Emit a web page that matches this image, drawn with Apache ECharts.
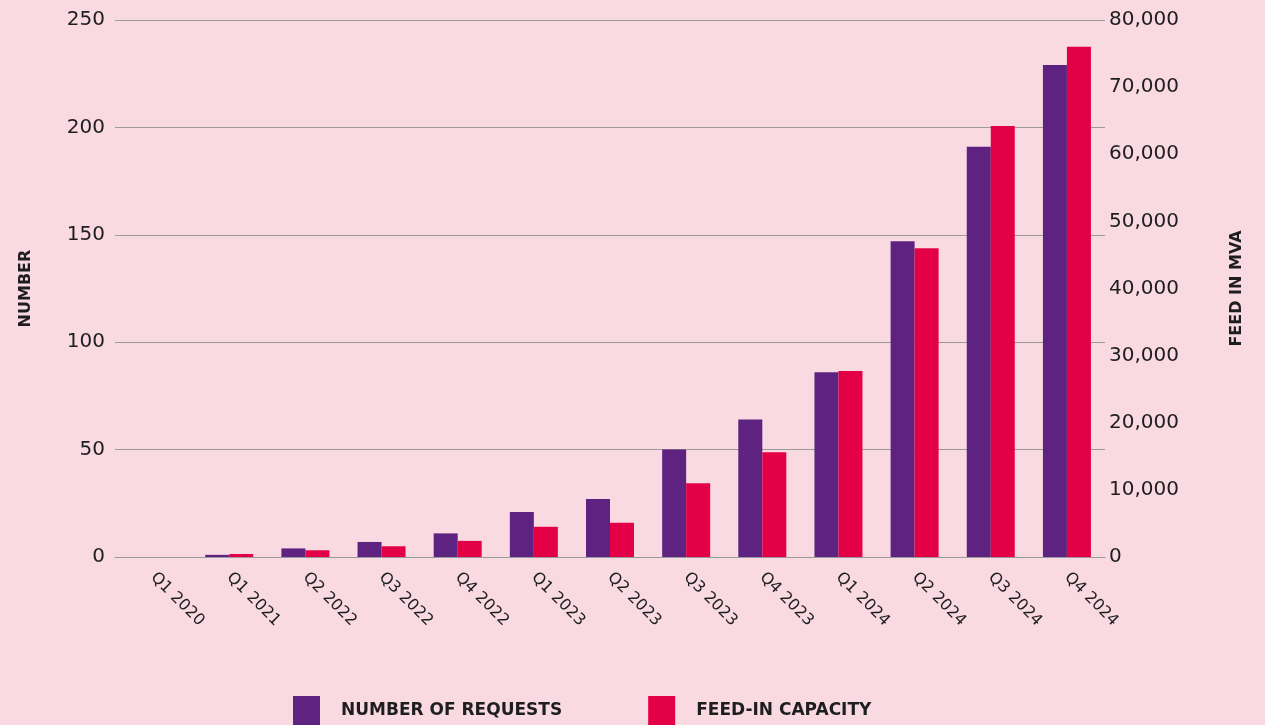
<!DOCTYPE html>
<html>
<head>
    <meta charset="utf-8" />
    <title>Requests and feed-in capacity</title>
    <script src="https://cdn.jsdelivr.net/npm/echarts@6/dist/echarts.min.js"></script>
    <style>
        html, body { margin: 0; padding: 0; background: #f9d9e2; }
    </style>
</head>
<body>
    <div id="main" style="width: 1265px; height: 725px;"></div>

    <script type="text/javascript">
        var quarters = ['Q1 2020', 'Q1 2021', 'Q2 2022', 'Q3 2022', 'Q4 2022', 'Q1 2023', 'Q2 2023',
            'Q3 2023', 'Q4 2023', 'Q1 2024', 'Q2 2024', 'Q3 2024', 'Q4 2024'];

        // number of requests (left axis)
        var requests = [0, 1, 4, 7, 11, 21, 27, 50, 64, 86, 147, 191, 229];

        // feed-in capacity in MVA (right axis)
        var capacity = [0, 450, 1000, 1600, 2400, 4500, 5100, 11000, 15600, 27700, 46000, 64200, 76000];

        var fontFamily = '"DejaVu Sans", sans-serif';
        var textColor = '#1e1e1e';

        var myChart = echarts.init(document.getElementById('main'));

        var option = {
            backgroundColor: '#f9d9e2',
            textStyle: { fontFamily: fontFamily },
            grid: {
                left: 115,
                right: 160,
                top: 20,
                bottom: 168
            },
            legend: {
                bottom: -6,
                left: 288,
                itemWidth: 27,
                itemHeight: 30,
                itemGap: 86,
                icon: 'rect',
                textStyle: {
                    fontFamily: fontFamily,
                    fontWeight: 'bold',
                    fontSize: 17,
                    color: textColor,
                    padding: [0, 0, 0, 16]
                },
                data: ['NUMBER OF REQUESTS', 'FEED-IN CAPACITY']
            },
            xAxis: {
                type: 'category',
                data: quarters,
                axisLine: { lineStyle: { color: '#9a9a9a', width: 1 } },
                axisTick: { show: false },
                axisLabel: {
                    rotate: -45,
                    margin: 18,
                    fontSize: 16,
                    color: textColor,
                    interval: 0
                }
            },
            yAxis: [
                {
                    type: 'value',
                    min: 0,
                    max: 250,
                    interval: 50,
                    name: 'NUMBER',
                    nameLocation: 'middle',
                    nameGap: 81,
                    nameTextStyle: {
                        fontWeight: 'bold',
                        fontSize: 16,
                        color: textColor
                    },
                    axisLine: { show: false },
                    axisTick: { show: false },
                    axisLabel: {
                        margin: 10,
                        fontSize: 20,
                        color: textColor
                    },
                    splitLine: { lineStyle: { color: '#9a9a9a', width: 1 } }
                },
                {
                    type: 'value',
                    min: 0,
                    max: 80000,
                    interval: 10000,
                    name: 'FEED IN MVA',
                    nameLocation: 'middle',
                    nameRotate: 90,
                    nameGap: 124,
                    nameTextStyle: {
                        fontWeight: 'bold',
                        fontSize: 16,
                        color: textColor
                    },
                    axisLine: { show: false },
                    axisTick: { show: false },
                    axisLabel: {
                        margin: 4,
                        fontSize: 20,
                        color: textColor,
                        formatter: function (v) {
                            return v.toLocaleString('en-US');
                        }
                    },
                    splitLine: { show: false }
                }
            ],
            series: [
                {
                    name: 'NUMBER OF REQUESTS',
                    type: 'bar',
                    yAxisIndex: 0,
                    barWidth: 24,
                    barGap: '0%',
                    itemStyle: { color: '#5e2380' },
                    data: requests
                },
                {
                    name: 'FEED-IN CAPACITY',
                    type: 'bar',
                    yAxisIndex: 1,
                    barWidth: 24,
                    barGap: '0%',
                    itemStyle: { color: '#e40046' },
                    data: capacity
                }
            ]
        };

        myChart.setOption(option);
    </script>
</body>
</html>
